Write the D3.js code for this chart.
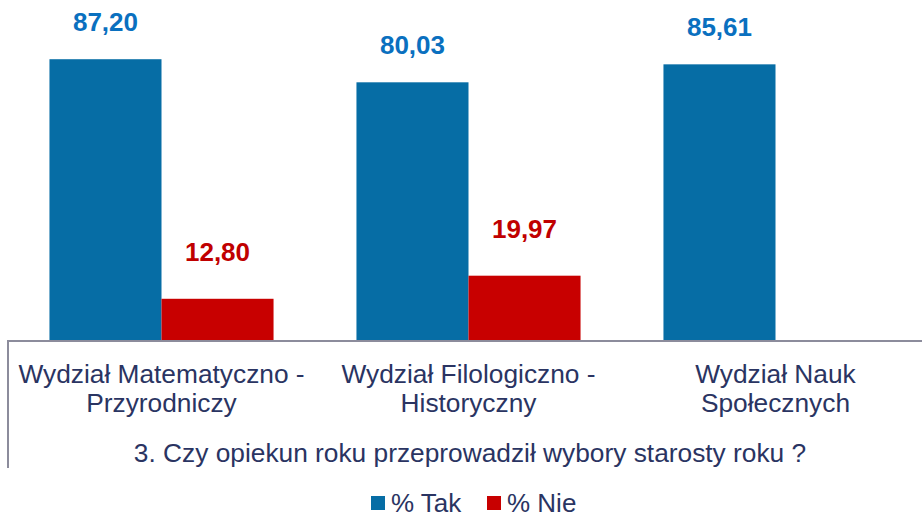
<!DOCTYPE html>
<html>
<head>
<meta charset="utf-8">
<script src="https://cdn.jsdelivr.net/npm/d3@7"></script>
<style>
  html, body { margin: 0; padding: 0; background: #fff; }
  svg { display: block; font-family: "Liberation Sans", Arial, sans-serif; }
</style>
</head>
<body>
<svg id="chart" width="922" height="518"></svg>
<script>
const categories = [
  ["Wydział Matematyczno -", "Przyrodniczy"],
  ["Wydział Filologiczno -", "Historyczny"],
  ["Wydział Nauk", "Społecznych"]
];
const seriesNames = ["% Tak", "% Nie"];
const takValues = [87.20, 80.03, 85.61];
const nieValues = [12.80, 19.97, null];
const axisTitle = "3. Czy opiekun roku przeprowadził wybory starosty roku ?";

const barColors = ["#066DA5", "#C80000"];
const labelColors = ["#0A70BF", "#C00000"];
const labelGap = [28, 38];
const textColor = "#2A3462";

const svg = d3.select("#chart");
const catIdx = categories.map((d, i) => i);

const x0 = d3.scaleBand().domain(catIdx).range([8, 929]).padding(0);
const x1 = d3.scaleBand().domain(seriesNames).range([0, x0.bandwidth()]).paddingInner(0).paddingOuter(0.37);
const y = d3.scaleLinear().domain([0, 100]).range([340, 18]);

const seriesData = [takValues, nieValues];

const rows = [];
seriesData.forEach((vals, s) => {
  vals.forEach((v, c) => {
    if (v !== null && v !== undefined) rows.push({ s, c, v });
  });
});

svg.append("g").selectAll("rect").data(rows).join("rect")
  .attr("x", d => x0(d.c) + x1(seriesNames[d.s]))
  .attr("y", d => y(d.v))
  .attr("width", x1.bandwidth())
  .attr("height", d => y(0) - y(d.v))
  .attr("fill", d => barColors[d.s]);

svg.append("g").selectAll("text").data(rows).join("text")
  .attr("x", d => x0(d.c) + x1(seriesNames[d.s]) + x1.bandwidth() / 2)
  .attr("y", d => y(d.v) - labelGap[d.s])
  .attr("text-anchor", "middle")
  .attr("font-size", 26)
  .attr("font-weight", "bold")
  .attr("fill", d => labelColors[d.s])
  .text(d => d3.format(".2f")(d.v).replace(".", ","));

// axis line
svg.append("line")
  .attr("x1", 8).attr("x2", 922)
  .attr("y1", y(0) + 1).attr("y2", y(0) + 1)
  .attr("stroke", "#8C8C9C").attr("stroke-width", 2);
svg.append("line")
  .attr("x1", 8).attr("x2", 8)
  .attr("y1", y(0)).attr("y2", 468)
  .attr("stroke", "#8C8C9C").attr("stroke-width", 2);

// category labels
const catG = svg.append("g").selectAll("text").data(catIdx).join("text")
  .attr("text-anchor", "middle")
  .attr("font-size", 26.3)
  .attr("fill", textColor);
catG.each(function(c) {
  const t = d3.select(this);
  categories[c].forEach((line, i) => {
    t.append("tspan")
      .attr("x", x0(c) + x0.bandwidth() / 2)
      .attr("y", 383 + i * 29)
      .text(line);
  });
});

// axis title
svg.append("text")
  .attr("x", 470)
  .attr("y", 462)
  .attr("text-anchor", "middle")
  .attr("font-size", 26.3)
  .attr("fill", textColor)
  .text(axisTitle);

// legend
const legendX = [371, 487];
const lg = svg.append("g").selectAll("g").data(seriesNames).join("g")
  .attr("transform", (d, i) => `translate(${legendX[i]},496)`);
lg.append("rect").attr("width", 14).attr("height", 14).attr("fill", (d, i) => barColors[i]);
lg.append("text").attr("x", 20).attr("y", 16)
  .attr("font-size", 26).attr("fill", textColor).text(d => d);
</script>
</body>
</html>
